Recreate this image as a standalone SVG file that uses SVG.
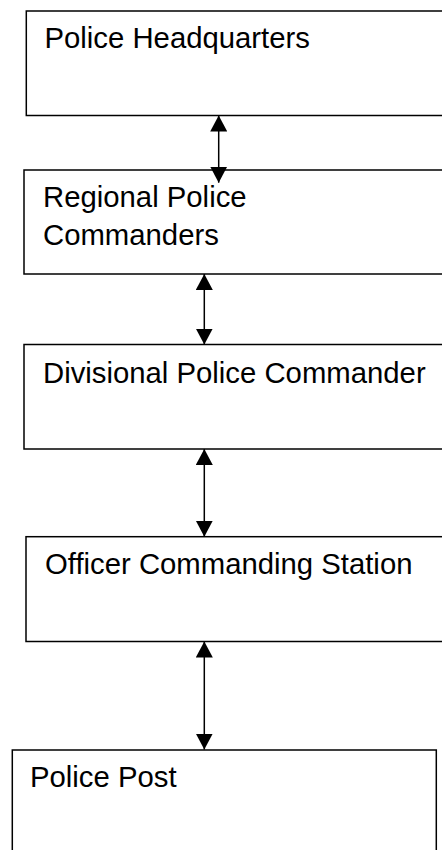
<svg xmlns="http://www.w3.org/2000/svg" width="442" height="850" viewBox="0 0 442 850">
  <style>
    .box { fill: #ffffff; stroke: #000000; stroke-width: 1.5; }
    .lbl { font-family: "Liberation Sans", Arial, sans-serif; font-size: 29.3px; fill: #000000; }
    .conn { stroke: #000000; stroke-width: 1.5; fill: none; marker-start: url(#ah); marker-end: url(#ah); }
  </style>
  <defs>
    <marker id="ah" markerUnits="userSpaceOnUse" markerWidth="17" markerHeight="17" refX="16" refY="8.5" orient="auto-start-reverse">
      <path d="M0,0 L16,8.5 L0,17 Z" fill="#000000"/>
    </marker>
  </defs>
  <rect width="442" height="850" fill="#ffffff"/>

  <g id="node-hq">
    <rect class="box" x="26.3" y="11" width="430" height="104.5"/>
    <text class="lbl" x="44.5" y="47.5">Police Headquarters</text>
  </g>
  <g id="node-regional">
    <rect class="box" x="24" y="170" width="430" height="104"/>
    <text class="lbl" x="43" y="207">Regional Police</text>
    <text class="lbl" x="43" y="245">Commanders</text>
  </g>
  <g id="node-divisional">
    <rect class="box" x="24" y="344.5" width="430" height="104.5"/>
    <text class="lbl" x="43" y="383">Divisional Police Commander</text>
  </g>
  <g id="node-ocs">
    <rect class="box" x="26" y="536.7" width="430" height="104.8"/>
    <text class="lbl" x="45" y="573.5">Officer Commanding Station</text>
  </g>
  <g id="node-post">
    <rect class="box" x="12.3" y="750" width="424" height="120"/>
    <text class="lbl" x="30" y="787">Police Post</text>
  </g>

  <g id="connectors">
    <line class="conn" x1="218.7" y1="115.5" x2="218.7" y2="182.7"/>
    <line class="conn" x1="204.3" y1="274" x2="204.3" y2="344.5"/>
    <line class="conn" x1="204.3" y1="449" x2="204.3" y2="536.7"/>
    <line class="conn" x1="204.3" y1="641.5" x2="204.3" y2="749.5"/>
  </g>
</svg>
